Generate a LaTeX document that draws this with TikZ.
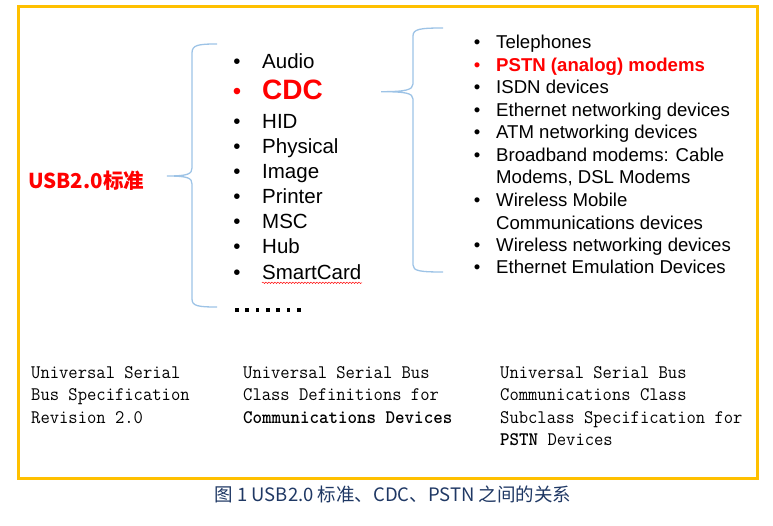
\documentclass[tikz,border=0pt]{standalone}
\usepackage{fontspec}
\usepackage{graphicx}
\setmainfont{Liberation Sans}
\newfontfamily\cjk{Noto Sans CJK SC}
\usetikzlibrary{decorations.pathmorphing}
\definecolor{frameyellow}{RGB}{255,192,0}
\definecolor{bracecol}{RGB}{157,195,230}
\definecolor{capcol}{RGB}{31,56,100}
\definecolor{redc}{RGB}{255,0,0}
\newcommand{\tallm}[1]{\scalebox{1}[1.06]{#1}}
\begin{document}
\begin{tikzpicture}[x=1pt,y=-1pt,
  txt/.style={inner sep=0pt,anchor=base west},
  bul/.style={inner sep=0pt,anchor=base},
  lfont/.style={font=\fontsize{20.5}{24}\selectfont},
  rfont/.style={font=\fontsize{18.6}{22}\selectfont},
  mfont/.style={font=\ttfamily\fontsize{18.1}{22.3}\selectfont},
  brace/.style={draw=bracecol,line width=1.3pt}]
\path[use as bounding box] (0,0) rectangle (773,526);
% frame
\draw[frameyellow,line width=3pt] (18.5,6.7) rectangle (757,478);
% left label
\node[inner sep=0pt,anchor=base west,text=redc,font=\cjk\bfseries\fontsize{20.5}{24}\selectfont] (usb) at (28,189) {USB2.0标准};
% brace 1
\draw[brace] (217,44) .. controls (198,44) and (192,45) .. (192,53) -- (192,168) .. controls (192,174) and (188,176) .. (167,176) .. controls (188,176) and (192,178) .. (192,184) -- (192,299) .. controls (192,306) and (198,307) .. (217,307);
% left list
\foreach \t/\y/\n in {Audio/68.3/a,HID/128.3/c,Physical/153.3/d,Image/178.3/e,Printer/203.3/f,MSC/228.3/g,Hub/253.3/h,SmartCard/279.3/i}{
  \node[bul,lfont] (b\n) at (237,\y) {•};
  \node[txt,lfont] (t\n) at (262,\y) {\t};
}
\node[bul,font=\fontsize{24}{28}\selectfont,text=redc] (bb) at (237,100) {•};
\node[txt,font=\bfseries\fontsize{28}{32}\selectfont,text=redc] (tb) at (262,100) {CDC};
\draw[redc,line width=0.5pt,decorate,decoration={snake,amplitude=0.7pt,segment length=3pt}] (ti.base west) ++(0,3.5) -- ++(100,0);
\foreach \i in {0,...,6}{
  \fill (235+\i*10.3,308.5) rectangle ++(3.8,3.8);
}
% brace 2
\draw[brace] (443,28) .. controls (420,28) and (413,29) .. (413,36) -- (413,84) .. controls (413,90) and (405,91.7) .. (381,91.7) .. controls (405,91.7) and (413,93) .. (413,99) -- (413,265) .. controls (413,271) and (420,272) .. (443,272);
% right list
\foreach \t/\y/\n in {Telephones/49/a,ISDN devices/94/c,Ethernet networking devices/116.7/d,ATM networking devices/138.7/e,Broadband modems: Cable/162/f,Wireless Mobile/206.7/h,Wireless networking devices/251.7/j,Ethernet Emulation Devices/274/k}{
  \node[bul,rfont] (rb\n) at (477,\y) {•};
  \node[txt,rfont] (rt\n) at (496,\y) {\t};
}
\node[bul,rfont,text=redc] (rbb) at (477,71.7) {•};
\node[txt,rfont,text=redc,font=\bfseries\fontsize{18.6}{22}\selectfont] (rtb) at (496,71.7) {PSTN (analog) modems};
\node[txt,rfont] (rtg) at (496,184) {Modems, DSL Modems};
\node[txt,rfont] (rti) at (496,229.3) {Communications devices};
% bottom texts
\foreach \t/\x/\y/\n in {Universal Serial/31/378.5/a1,Bus Specification/31/400.8/a2,Revision 2.0/31/423.1/a3,
  Universal Serial Bus/243/378.5/b1,Class Definitions for/243/400.8/b2,{\textbf{Communications Devices}}/243/423.1/b3,
  Universal Serial Bus/500/378.5/c1,Communications Class/500/400.8/c2,Subclass Specification for/500/423.1/c3,{\textbf{PSTN} Devices}/500/445.4/c4}{
  \node[txt,mfont] (m\n) at (\x,\y) {\tallm{\t}};
}
% caption
\node[inner sep=0pt,text=capcol,font=\cjk\fontsize{18.5}{22}\selectfont] (cap) at (393,494) {图 1 USB2.0 标准、CDC、PSTN 之间的关系};
\end{tikzpicture}
\end{document}
